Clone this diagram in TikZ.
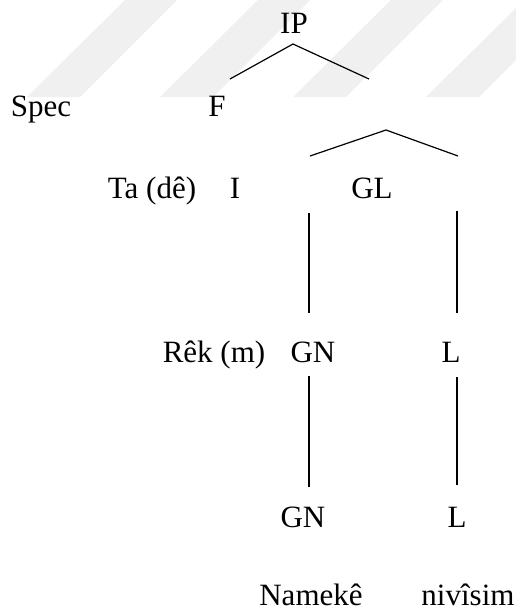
\documentclass[tikz,border=0pt]{standalone}
\usepackage{fontspec}
\setmainfont{Liberation Serif}
\begin{document}
\begin{tikzpicture}[x=1pt,y=-1pt,
  lbl/.style={anchor=base,inner sep=0pt,font=\fontsize{31}{36}\selectfont},
  branch/.style={line width=1.2pt,line cap=butt},
  band/.style={fill=black!6,draw=none}]
\useasboundingbox (0,0) rectangle (516,611);
% faint diagonal bands across the top
\foreach \s in {0,1,2,3,4}{
  \fill[band] ({27+133*\s},97) -- ({80+133*\s},97) -- ({177+133*\s},0) -- ({125+133*\s},0) -- cycle;
}
% labels
\node[lbl] (ip)    at (294,33)  {IP};
\node[lbl] (spec)  at (41,116)  {Spec};
\node[lbl] (f)     at (217,116) {F};
\node[lbl] (ta)    at (152,198) {Ta (dê)};
\node[lbl] (i)     at (235,198) {I};
\node[lbl] (gl)    at (372,198) {GL};
\node[lbl] (rek)   at (214,362) {Rêk (m)};
\node[lbl] (gna)   at (313,362) {GN};
\node[lbl] (la)    at (451,362) {L};
\node[lbl] (gnb)   at (303,527) {GN};
\node[lbl] (lb)    at (457,527) {L};
\node[lbl] (nam)   at (311,605) {Namekê};
\node[lbl] (niv)   at (468,605) {nivîsim};
% branch points
\coordinate (ipT) at (293,44);
\coordinate (ipL) at (230,79);
\coordinate (ipR) at (369,79);
\coordinate (glT) at (386,130);
\coordinate (glL) at (310,156);
\coordinate (glR) at (458,156);
\coordinate (v1a) at (309,213);
\coordinate (v1b) at (309,313);
\coordinate (v2a) at (457,211);
\coordinate (v2b) at (457,313);
\coordinate (v3a) at (309,376);
\coordinate (v3b) at (309,487);
\coordinate (v4a) at (457,377);
\coordinate (v4b) at (457,485);
% branches
\draw[branch] (ipL) -- (ipT) -- (ipR);
\draw[branch] (glL) -- (glT) -- (glR);
\draw[branch] (v1a) -- (v1b);
\draw[branch] (v2a) -- (v2b);
\draw[branch] (v3a) -- (v3b);
\draw[branch] (v4a) -- (v4b);
\end{tikzpicture}
\end{document}
